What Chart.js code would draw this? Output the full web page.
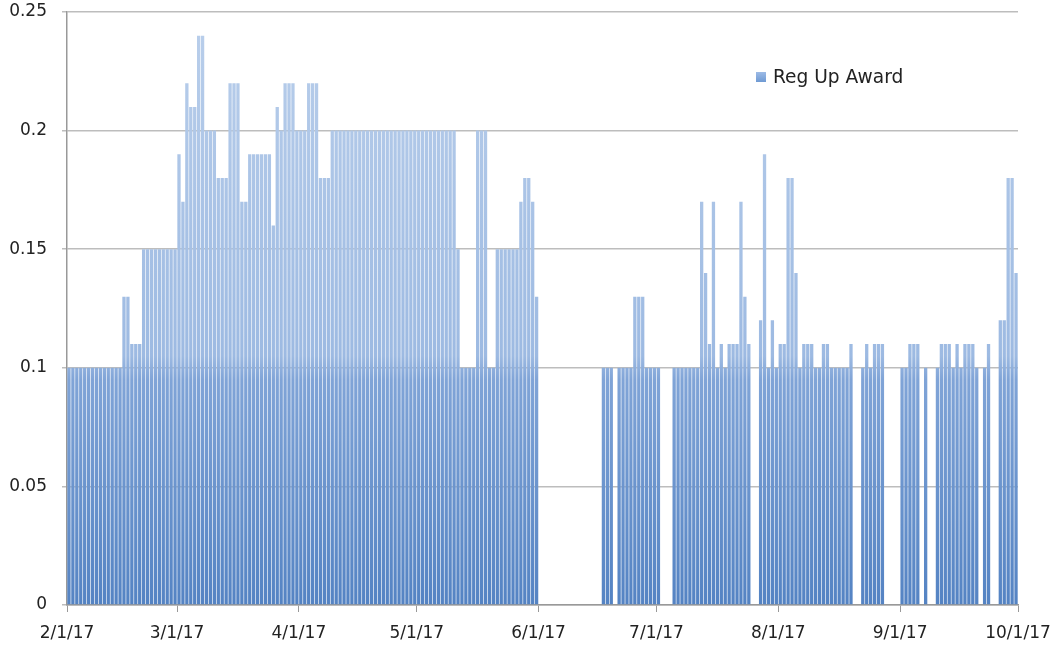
<!DOCTYPE html>
<html>
<head>
<meta charset="utf-8">
<script src="https://cdn.jsdelivr.net/npm/chart.js@4/dist/chart.umd.min.js"></script>
<style>
  html, body { margin: 0; padding: 0; background: #fff; }
  #wrap { position: relative; width: 1054px; height: 645px; }
  #leyenda {
    position: absolute; left: 756px; top: 66px;
    font-family: "DejaVu Sans", sans-serif; font-size: 18.6px; color: #222;
    display: flex; align-items: center;
  }
  #leyenda span.caja {
    display: inline-block; width: 10px; height: 10px; margin-right: 7px;
    background: linear-gradient(#9dbbe6, #6f9ad3);
  }
</style>
</head>
<body>
<div id="wrap">
  <canvas id="regChart" width="1054" height="645"></canvas>
  <div id="leyenda"><span class="caja"></span>Reg Up Award</div>
</div>
<script>
// Valor diario (máximo del día) de Reg Up Award
const feb = [0.1, 0.1, 0.1, 0.1, 0.1, 0.1, 0.1, 0.1, 0.1, 0.1, 0.1, 0.1, 0.1, 0.1,
             0.13, 0.13, 0.11, 0.11, 0.11,
             0.15, 0.15, 0.15, 0.15, 0.15, 0.15, 0.15, 0.15, 0.15];
const mar = [0.19, 0.17, 0.22, 0.21, 0.21, 0.24, 0.24, 0.2, 0.2, 0.2, 0.18, 0.18, 0.18,
             0.22, 0.22, 0.22, 0.17, 0.17, 0.19, 0.19, 0.19, 0.19, 0.19, 0.19, 0.16,
             0.21, 0.2, 0.22, 0.22, 0.22, 0.2];
const abr = [0.2, 0.2, 0.22, 0.22, 0.22, 0.18, 0.18, 0.18,
             0.2, 0.2, 0.2, 0.2, 0.2, 0.2, 0.2, 0.2, 0.2, 0.2, 0.2, 0.2, 0.2, 0.2,
             0.2, 0.2, 0.2, 0.2, 0.2, 0.2, 0.2, 0.2];
const may = [0.2, 0.2, 0.2, 0.2, 0.2, 0.2, 0.2, 0.2, 0.2, 0.2, 0.15,
             0.1, 0.1, 0.1, 0.1, 0.2, 0.2, 0.2, 0.1, 0.1,
             0.15, 0.15, 0.15, 0.15, 0.15, 0.15, 0.17, 0.18, 0.18, 0.17, 0.13];
const jun = [null, null, null, null, null, null, null, null, null, null, null, null,
             null, null, null, null, 0.1, 0.1, 0.1, null, 0.1, 0.1, 0.1, 0.1,
             0.13, 0.13, 0.13, 0.1, 0.1, 0.1];
const jul = [0.1, null, null, null, 0.1, 0.1, 0.1, 0.1, 0.1, 0.1, 0.1,
             0.17, 0.14, 0.11, 0.17, 0.1, 0.11, 0.1, 0.11, 0.11, 0.11, 0.17, 0.13,
             0.11, null, null, 0.12, 0.19, 0.1, 0.12, 0.1];
const ago = [0.11, 0.11, 0.18, 0.18, 0.14, 0.1, 0.11, 0.11, 0.11, 0.1, 0.1, 0.11,
             0.11, 0.1, 0.1, 0.1, 0.1, 0.1, 0.11, null, null, 0.1, 0.11, 0.1,
             0.11, 0.11, 0.11, null, null, null, null];
const sep = [0.1, 0.1, 0.11, 0.11, 0.11, null, 0.1, null, null, 0.1, 0.11, 0.11,
             0.11, 0.1, 0.11, 0.1, 0.11, 0.11, 0.11, 0.1, null, 0.1, 0.11, null,
             null, 0.12, 0.12, 0.18, 0.18, 0.14];

const valores = [].concat(feb, mar, abr, may, jun, jul, ago, sep);

// Etiquetas del eje X (día en que empieza cada mes, contando desde 2/1/17)
const etiquetasMes = ['2/1/17', '3/1/17', '4/1/17', '5/1/17', '6/1/17', '7/1/17', '8/1/17', '9/1/17', '10/1/17'];
const inicioMes = [0, 28, 59, 89, 120, 150, 181, 212, 242];
const etiquetasY = ['0', '0.05', '0.1', '0.15', '0.2', '0.25'];

let degradado = null;
function colorBarra(context) {
    const chart = context.chart;
    const area = chart.chartArea;
    if (!area) return '#7fa6da';
    if (!degradado) {
        const y = chart.scales.y;
        const y0 = y.getPixelForValue(0);
        const y25 = y.getPixelForValue(0.25);
        degradado = chart.ctx.createLinearGradient(0, y0, 0, y25);
        degradado.addColorStop(0, '#5483c3');
        degradado.addColorStop(0.38, '#80a4d7');
        degradado.addColorStop(0.42, '#9dbae2');
        degradado.addColorStop(1, '#bacfeb');
    }
    return degradado;
}

const ctx = document.getElementById('regChart').getContext('2d');
const regChart = new Chart(ctx, {
    type: 'bar',
    data: {
        datasets: [{
            label: 'Reg Up Award',
            data: valores.map((v, i) => ({ x: i + 0.5, y: v })),
            backgroundColor: colorBarra,
            borderWidth: 0,
            barPercentage: 0.84,
            categoryPercentage: 1
        }]
    },
    options: {
        responsive: false,
        animation: false,
        layout: { padding: { left: 0, top: 12, right: 36, bottom: 0 } },
        plugins: {
            legend: { display: false },
            tooltip: { enabled: false }
        },
        scales: {
            x: {
                type: 'linear',
                offset: false,
                min: 0,
                max: 242,
                afterBuildTicks: (scale) => {
                    scale.ticks = inicioMes.map(v => ({ value: v }));
                },
                afterFit: (scale) => {
                    scale.height = 40;
                    scale.paddingLeft = 0;
                    scale.paddingRight = 0;
                },
                ticks: {
                    autoSkip: false,
                    maxRotation: 0,
                    padding: 4,
                    color: '#222',
                    font: { family: 'DejaVu Sans', size: 17, lineHeight: 2.1 },
                    callback: (value) => etiquetasMes[inicioMes.indexOf(value)]
                },
                grid: { offset: false, drawOnChartArea: false, tickLength: 7, color: '#999', lineWidth: 1 },
                border: { color: '#999', width: 1.5 }
            },
            y: {
                min: 0,
                max: 0.25,
                afterFit: (scale) => {
                    scale.width = 67;
                    scale.paddingTop = 0;
                    scale.paddingBottom = 0;
                },
                ticks: {
                    stepSize: 0.05,
                    padding: 15,
                    color: '#222',
                    font: { family: 'DejaVu Sans', size: 17 },
                    callback: (value, index) => etiquetasY[index]
                },
                grid: { color: '#bdbdbd', lineWidth: 1.5, tickLength: 5 },
                border: { color: '#999', width: 1.5 }
            }
        }
    }
});
</script>
</body>
</html>
